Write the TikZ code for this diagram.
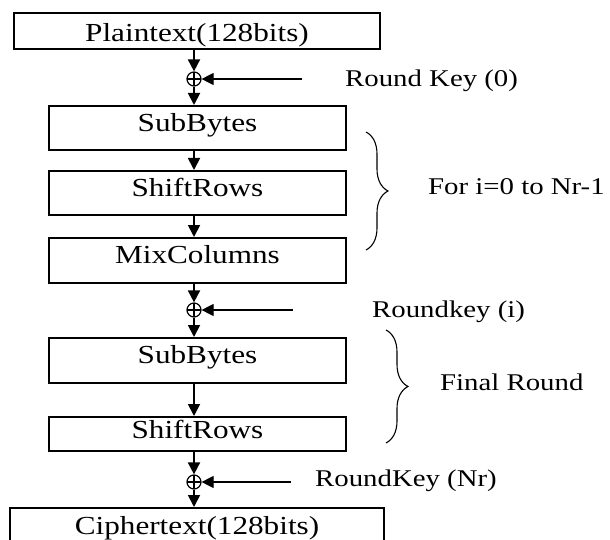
\documentclass[tikz,border=0pt]{standalone}
\usepackage{fontspec}
\setmainfont{Liberation Serif}[FakeStretch=1.2]
\usetikzlibrary{arrows.meta,decorations.pathreplacing}
\begin{document}
\begin{tikzpicture}[x=1pt,y=-1pt,
  box/.style={draw,line width=2pt,inner sep=0pt,font=\fontsize{26}{31}\selectfont,text height=18pt,text depth=11.8pt},
  lbl/.style={font=\fontsize{24}{29}\selectfont,anchor=base west,inner sep=0pt},
  flow/.style={line width=1.8pt,-{Triangle[length=12pt,width=12pt]}},
  keyarr/.style={line width=1.2pt,-{Triangle[length=12pt,width=12pt]}},
  xor/.style={circle,draw,line width=1.2pt,minimum size=14pt,inner sep=0pt,
    path picture={\draw[line width=1.2pt] (path picture bounding box.north) -- (path picture bounding box.south) (path picture bounding box.west) -- (path picture bounding box.east);}},
  brc/.style={decorate,decoration={brace,amplitude=22pt},line width=1.1pt}]
\useasboundingbox (0,0) rectangle (610,540);
\clip (0,0) rectangle (610,540);

\node[box,minimum width=366pt,minimum height=36pt,text height=21.2pt,text depth=0pt] (plain) at (197,31) {Plaintext(128bits)};
\node[box,minimum width=297pt,minimum height=44pt] (sb1) at (197.5,128) {SubBytes};
\node[box,minimum width=297pt,minimum height=44pt] (sr1) at (197.5,193) {ShiftRows};
\node[box,minimum width=297pt,minimum height=45pt] (mc) at (197.5,260.5) {MixColumns};
\node[box,minimum width=297pt,minimum height=45pt] (sb2) at (197.5,360.5) {SubBytes};
\node[box,minimum width=297pt,minimum height=34pt,text depth=8.8pt] (sr2) at (197.5,434) {ShiftRows};
\node[box,minimum width=374pt,minimum height=38pt,text depth=3.8pt] (ct) at (197,527) {Ciphertext(128bits)};

\node[xor] (x1) at (194,79) {};
\node[xor] (x2) at (194,310) {};
\node[xor] (x3) at (194,482) {};

\coordinate (k1) at (302,79);
\coordinate (k2) at (293,310);
\coordinate (k3) at (291,482);

\draw[flow] (plain.south -| x1) -- (x1);
\draw[flow] (x1) -- (x1 |- sb1.north);
\draw[flow] (sb1.south -| x1) -- (sr1.north -| x1);
\draw[flow] (sr1.south -| x1) -- (mc.north -| x1);
\draw[flow] (mc.south -| x1) -- (x2);
\draw[flow] (x2) -- (x2 |- sb2.north);
\draw[flow] (sb2.south -| x2) -- (sr2.north -| x2);
\draw[flow] (sr2.south -| x2) -- (x3);
\draw[flow] (x3) -- (x3 |- ct.north);

\draw[keyarr] (k1) -- (x1);
\draw[keyarr] (k2) -- (x2);
\draw[keyarr] (k3) -- (x3);

\coordinate (b1t) at (366,132);
\coordinate (b1b) at (366,250);
\coordinate (b2t) at (386,330);
\coordinate (b2b) at (386,443);
\draw[brc] (b1t) -- (b1b);
\draw[brc] (b2t) -- (b2b);

\node[lbl] (l0) at (345,87) {Round Key (0)};
\node[lbl] (l1) at (428,195) {For i=0 to Nr-1};
\node[lbl] (l2) at (372,317) {Roundkey (i)};
\node[lbl] (l3) at (440,390) {Final Round};
\node[lbl] (l4) at (315,486) {RoundKey (Nr)};
\end{tikzpicture}
\end{document}
